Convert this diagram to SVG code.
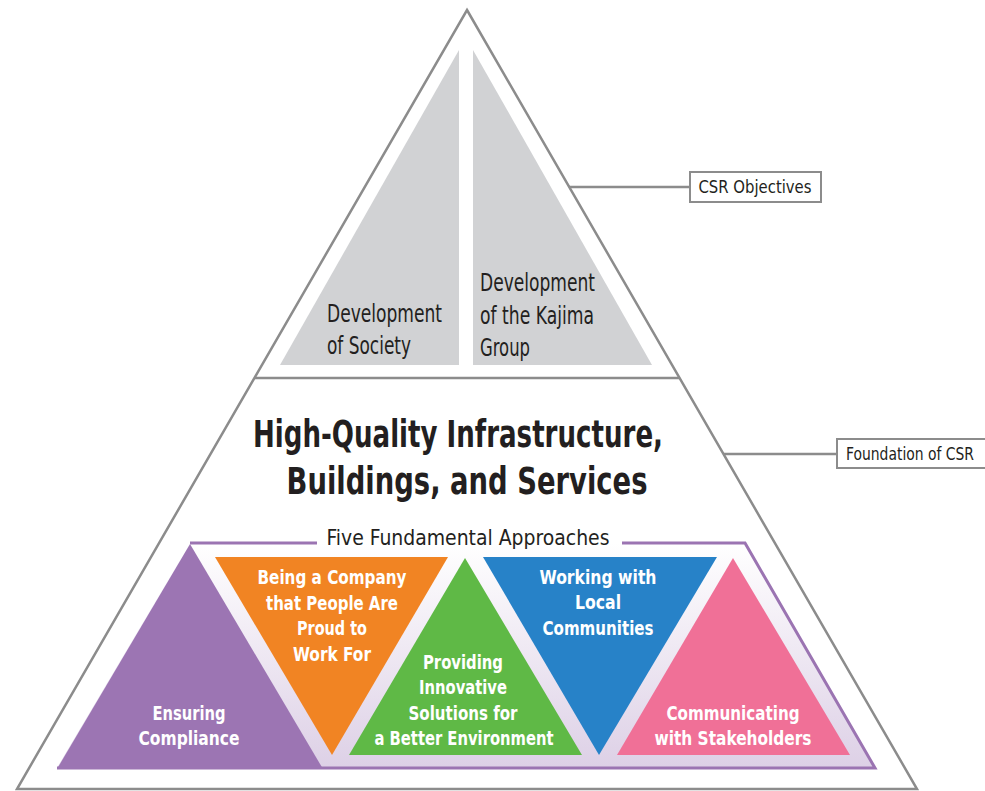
<svg xmlns="http://www.w3.org/2000/svg" width="985" height="791" viewBox="0 0 985 791">
  <defs>
    <linearGradient id="lav" x1="0" y1="543" x2="0" y2="768" gradientUnits="userSpaceOnUse">
      <stop offset="0" stop-color="#ffffff"/>
      <stop offset="1" stop-color="#ddd0e6"/>
    </linearGradient>
  </defs>
  <style>
    .outline { fill: none; stroke: #8c8c8c; stroke-width: 2.5; stroke-linejoin: miter; }
    .gray { fill: #d1d2d4; }
    .light { font-family: "Liberation Sans Narrow", "DejaVu Sans Condensed", "Liberation Sans", sans-serif; fill: #231f20; font-size: 24px; }
    .head { font-family: "Liberation Sans Narrow", "DejaVu Sans Condensed", "Liberation Sans", sans-serif; font-weight: bold; fill: #231f20; font-size: 37px; text-anchor: middle; }
    .sub { font-family: "Liberation Sans Narrow", "DejaVu Sans Condensed", "Liberation Sans", sans-serif; fill: #231f20; font-size: 22px; text-anchor: middle; }
    .tag { font-family: "Liberation Sans Narrow", "DejaVu Sans Condensed", "Liberation Sans", sans-serif; fill: #231f20; font-size: 17px; text-anchor: middle; }
    .box { fill: #ffffff; stroke: #8c8c8c; stroke-width: 2; }
    .lead { stroke: #8c8c8c; stroke-width: 2.5; fill: none; }
    .wt { font-family: "Liberation Sans Narrow", "DejaVu Sans Condensed", "Liberation Sans", sans-serif; font-weight: bold; fill: #ffffff; font-size: 20px; text-anchor: middle; }
  </style>

  <rect width="985" height="791" fill="#ffffff"/>

  <g id="pyramid">
    <polygon class="outline" points="467,10 917,789 17,789"/>
    <line class="outline" x1="255" y1="378" x2="679" y2="378"/>
  </g>

  <g id="objective-society">
    <polygon class="gray" points="459,50 459,365 280,365"/>
    <text class="light" x="327" y="322" textLength="115" lengthAdjust="spacingAndGlyphs">Development</text>
    <text class="light" x="327" y="354" textLength="84" lengthAdjust="spacingAndGlyphs">of Society</text>
  </g>

  <g id="objective-kajima">
    <polygon class="gray" points="473,50 652,365 473,365"/>
    <text class="light" x="480" y="291" textLength="115" lengthAdjust="spacingAndGlyphs">Development</text>
    <text class="light" x="480" y="324" textLength="114" lengthAdjust="spacingAndGlyphs">of the Kajima</text>
    <text class="light" x="480" y="356" textLength="50" lengthAdjust="spacingAndGlyphs">Group</text>
  </g>

  <g id="foundation">
    <text class="head" x="458" y="447" textLength="410" lengthAdjust="spacingAndGlyphs">High-Quality Infrastructure,</text>
    <text class="head" x="467" y="494" textLength="361" lengthAdjust="spacingAndGlyphs">Buildings, and Services</text>
  </g>

  <g id="five-approaches">
    <polygon points="190,543 745,543 875,768 57,768" fill="url(#lav)"/>
    <polyline points="317,543 190,543" fill="none" stroke="#9b74b2" stroke-width="3"/>
    <polyline points="622,543 745,543 875,768 57,768" fill="none" stroke="#9b74b2" stroke-width="3" stroke-linejoin="miter"/>
    <text class="sub" x="468" y="545" textLength="283" lengthAdjust="spacingAndGlyphs">Five Fundamental Approaches</text>
  </g>

  <g id="ensuring-compliance">
    <polygon points="190,544 323,769 57,769" fill="#9c75b3"/>
    <text class="wt" x="189" y="720" textLength="73" lengthAdjust="spacingAndGlyphs">Ensuring</text>
    <text class="wt" x="189" y="745" textLength="101" lengthAdjust="spacingAndGlyphs">Compliance</text>
  </g>

  <g id="proud-company">
    <polygon points="215,557 448,557 332,755" fill="#f18423"/>
    <text class="wt" x="332" y="584" textLength="149" lengthAdjust="spacingAndGlyphs">Being a Company</text>
    <text class="wt" x="332" y="610" textLength="132" lengthAdjust="spacingAndGlyphs">that People Are</text>
    <text class="wt" x="332" y="635" textLength="70" lengthAdjust="spacingAndGlyphs">Proud to</text>
    <text class="wt" x="332" y="661" textLength="78" lengthAdjust="spacingAndGlyphs">Work For</text>
  </g>

  <g id="innovative-solutions">
    <polygon points="465,558 582,755 349,755" fill="#5fb946"/>
    <text class="wt" x="463" y="669" textLength="80" lengthAdjust="spacingAndGlyphs">Providing</text>
    <text class="wt" x="463" y="694" textLength="88" lengthAdjust="spacingAndGlyphs">Innovative</text>
    <text class="wt" x="463" y="720" textLength="109" lengthAdjust="spacingAndGlyphs">Solutions for</text>
    <text class="wt" x="464" y="745" textLength="179" lengthAdjust="spacingAndGlyphs">a Better Environment</text>
  </g>

  <g id="local-communities">
    <polygon points="483,557 717,557 599,755" fill="#2782c8"/>
    <text class="wt" x="598" y="584" textLength="117" lengthAdjust="spacingAndGlyphs">Working with</text>
    <text class="wt" x="598" y="609" textLength="46" lengthAdjust="spacingAndGlyphs">Local</text>
    <text class="wt" x="598" y="635" textLength="111" lengthAdjust="spacingAndGlyphs">Communities</text>
  </g>

  <g id="stakeholders">
    <polygon points="733,558 850,755 617,755" fill="#f07097"/>
    <text class="wt" x="733" y="720" textLength="133" lengthAdjust="spacingAndGlyphs">Communicating</text>
    <text class="wt" x="733" y="745" textLength="157" lengthAdjust="spacingAndGlyphs">with Stakeholders</text>
  </g>

  <g id="connectors">
    <line class="lead" x1="569" y1="187" x2="690" y2="187"/>
    <line class="lead" x1="723" y1="454" x2="837" y2="454"/>
  </g>

  <g id="label-csr-objectives">
    <rect class="box" x="690" y="172" width="131" height="30"/>
    <text class="tag" x="755" y="193" textLength="113" lengthAdjust="spacingAndGlyphs">CSR Objectives</text>
  </g>

  <g id="label-foundation">
    <path class="box" d="M985,439 H837 V468 H985"/>
    <text class="tag" x="910" y="460" textLength="128" lengthAdjust="spacingAndGlyphs">Foundation of CSR</text>
  </g>
</svg>
